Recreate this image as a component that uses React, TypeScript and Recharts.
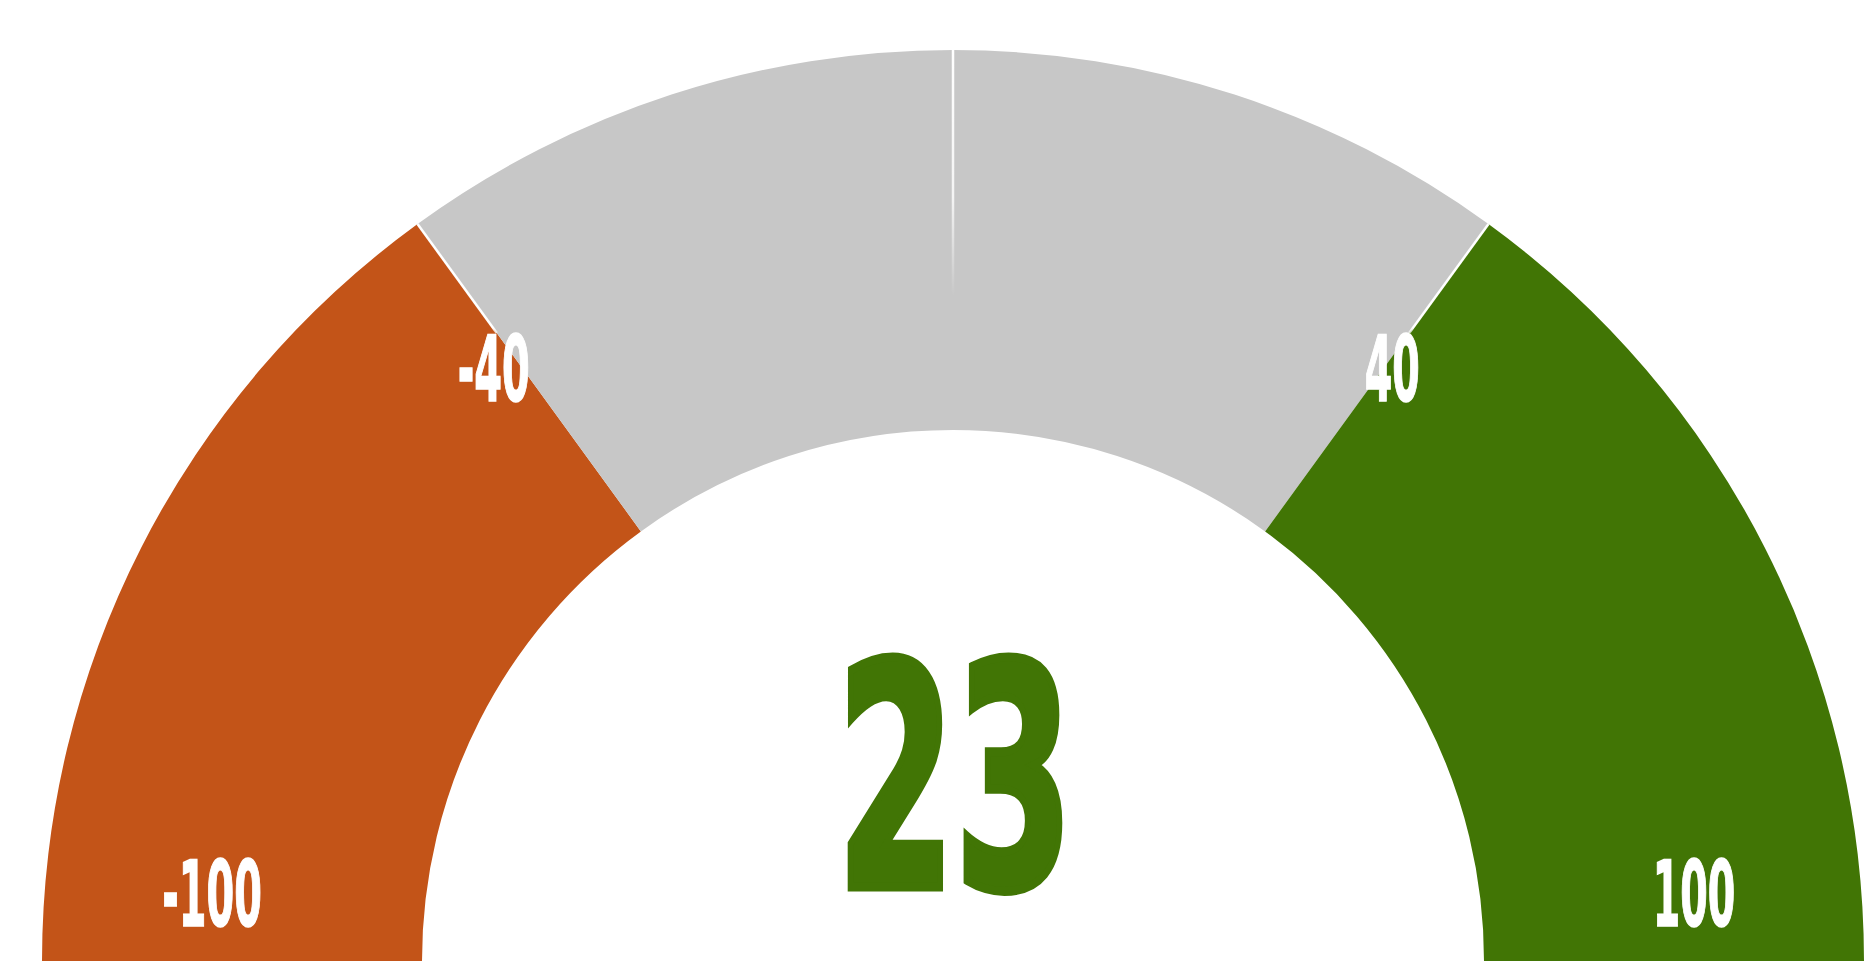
import React from 'react';
import { PieChart, Pie, Cell } from 'recharts';

// ---- data ----
const segmentNames = ['Negative', 'Neutral low', 'Neutral high', 'Positive'];
const segmentBounds = [-100, -40, 0, 40, 100];
const segmentValues = [60, 40, 40, 60];
const segmentColors = ['#C35418', '#C7C7C7', '#C7C7C7', '#417505'];
const tickLabels = [-100, -40, 40, 100];
const gaugeValue = 23;
const gaugeMin = -100;
const gaugeMax = 100;
const positiveColor = '#417505';
const negativeColor = '#C35418';

const data = segmentNames.map((name, i) => ({ name, value: segmentValues[i] }));

const RAD = Math.PI / 180;
const FONT = "'DejaVu Sans Condensed', 'DejaVu Sans', sans-serif";

const valueToAngle = (v: number) => 180 - ((v - gaugeMin) / (gaugeMax - gaugeMin)) * 180;

const polar = (cx: number, cy: number, r: number, angle: number) => ({
  x: cx + r * Math.cos(angle * RAD),
  y: cy - r * Math.sin(angle * RAD),
});

const textWidth = (s: string, digitW: number, dashW: number) =>
  s.split('').reduce((acc, ch) => acc + (ch === '-' ? dashW : digitW), 0);

const renderLabel = (props: any) => {
  const { cx, cy, index, outerRadius, innerRadius } = props;
  const out: React.ReactNode[] = [];
  const startV = segmentBounds[index];
  const endV = segmentBounds[index + 1];

  // separators between segments
  if (index < segmentValues.length - 1) {
    const a = valueToAngle(endV);
    const isMid = endV === 0;
    const p1 = polar(cx, cy, outerRadius, a);
    const p2 = polar(cx, cy, isMid ? outerRadius * 0.73 : outerRadius * 0.852, a);
    out.push(
      <defs key="d">
        <linearGradient id={`sep${index}`} x1={p1.x} y1={p1.y} x2={p2.x} y2={p2.y} gradientUnits="userSpaceOnUse">
          <stop offset="0" stopColor="#ffffff" stopOpacity={1} />
          <stop offset={isMid ? 0.6 : 0.95} stopColor="#ffffff" stopOpacity={isMid ? 0.8 : 1} />
          <stop offset="1" stopColor="#ffffff" stopOpacity={isMid ? 0 : 0.6} />
        </linearGradient>
      </defs>
    );
    out.push(
      <line key="s" x1={p1.x} y1={p1.y} x2={p2.x} y2={p2.y} stroke={`url(#sep${index})`} strokeWidth={2.5} />
    );
  }

  // tick labels
  const labelR = (innerRadius + outerRadius) / 2 + 23;
  const drawTick = (v: number, k: string) => {
    if (!tickLabels.includes(v)) return;
    const base = valueToAngle(v);
    const isEnd = v === gaugeMin || v === gaugeMax;
    const toCenter = base > 90 ? -1 : 1;
    const a = isEnd ? base + toCenter * 5.25 : base - toCenter * 1.15;
    const p = polar(cx, cy, labelR, a);
    const s = String(v);
    out.push(
      <text
        key={k}
        x={p.x + (isEnd ? 0 : -10)}
        y={p.y + 33}
        textAnchor="middle"
        fill="#ffffff"
        stroke="#ffffff"
        strokeWidth={1.5}
        fontFamily={FONT}
        fontWeight="bold"
        fontSize={90}
        textLength={textWidth(s, 27.5, 17)}
        lengthAdjust="spacingAndGlyphs"
      >
        {s}
      </text>
    );
  };
  drawTick(startV, 't0');
  if (index === segmentValues.length - 1) drawTick(endV, 't1');

  // center value
  if (index === 0) {
    const vs = String(gaugeValue);
    const col = gaugeValue >= 0 ? positiveColor : negativeColor;
    out.push(
      <text
        key="v"
        x={cx + 2}
        y={cy - 74}
        textAnchor="middle"
        fill={col}
        stroke={col}
        strokeWidth={9}
        strokeLinejoin="miter"
        fontFamily={FONT}
        fontWeight="bold"
        fontSize={310}
        textLength={textWidth(vs, 118, 60)}
        lengthAdjust="spacingAndGlyphs"
      >
        {vs}
      </text>
    );
  }
  return <g>{out}</g>;
};

export default function App() {
  return (
    <div style={{ width: 1857, height: 964 }}>
      <PieChart width={1857} height={964}>
        <Pie
          data={data}
          dataKey="value"
          cx={940}
          cy={948}
          startAngle={180}
          endAngle={0}
          innerRadius={531}
          outerRadius={911}
          stroke="none"
          label={renderLabel}
          labelLine={false}
          isAnimationActive={false}
        >
          {data.map((d, i) => (
            <Cell key={d.name} fill={segmentColors[i]} />
          ))}
        </Pie>
      </PieChart>
    </div>
  );
}
